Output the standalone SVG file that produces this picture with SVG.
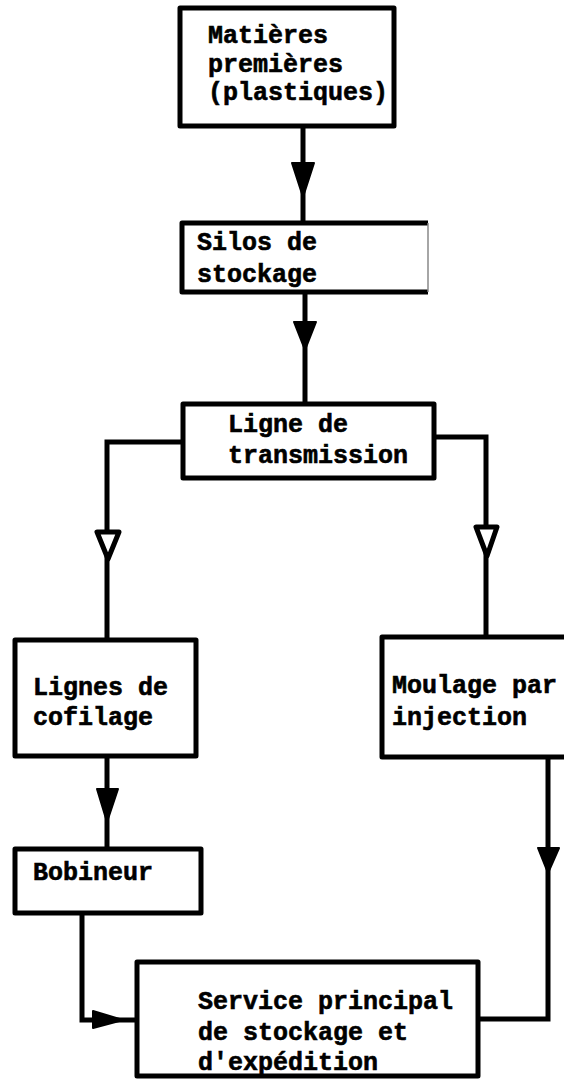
<svg xmlns="http://www.w3.org/2000/svg" width="564" height="1080" viewBox="0 0 564 1080">
  <style>
    .box { fill: #fff; stroke: #000; stroke-width: 5; stroke-linejoin: round; }
    .lbl { font-family: "Liberation Mono", "DejaVu Sans Mono", monospace; font-weight: bold; font-size: 25px; fill: #000; stroke: #000; stroke-width: 0.6; }
    .wire { fill: none; stroke: #000; stroke-width: 5; stroke-linejoin: miter; }
    .head { fill: #000; stroke: #000; stroke-width: 2; stroke-linejoin: round; }
    .open { fill: #fff; stroke: #000; stroke-width: 5; stroke-linejoin: round; }
  </style>
  <rect width="564" height="1080" fill="#fff"/>

  <!-- connectors -->
  <g id="connectors">
    <path class="wire" d="M303 126 V223"/>
    <polygon class="head" points="292,163 314,163 303,197"/>

    <path class="wire" d="M305 292 V404"/>
    <polygon class="head" points="294,322 316,322 305,350"/>

    <path class="wire" d="M183 442 H107 V640"/>
    <polygon class="open" points="97,532 119,532 108,559"/>

    <path class="wire" d="M434 437 H486 V637"/>
    <polygon class="open" points="476,527 497,527 487,556"/>

    <path class="wire" d="M107 756 V849"/>
    <polygon class="head" points="97,789 118,789 107,822"/>

    <path class="wire" d="M82 913 V1020 H137"/>
    <polygon class="head" points="93,1011 93,1028 123,1020"/>

    <path class="wire" d="M548 757 V1019 H478"/>
    <polygon class="head" points="538,848 559,848 548,873"/>
  </g>

  <g id="matieres">
    <rect class="box" x="180" y="8" width="214" height="118"/>
    <text class="lbl" x="208" y="43">Matières</text>
    <text class="lbl" x="208" y="72">premières</text>
    <text class="lbl" x="208" y="100">(plastiques)</text>
  </g>

  <g id="silos">
    <path class="box" d="M428 223 H182 V292 H428"/>
    <path d="M428 223 V292" fill="none" stroke="#888" stroke-width="1.5"/>
    <text class="lbl" x="197" y="250">Silos de</text>
    <text class="lbl" x="197" y="282">stockage</text>
  </g>

  <g id="ligne">
    <rect class="box" x="183" y="404" width="251" height="74"/>
    <text class="lbl" x="228" y="432">Ligne de</text>
    <text class="lbl" x="228" y="463">transmission</text>
  </g>

  <g id="cofilage">
    <rect class="box" x="15" y="640" width="181" height="116"/>
    <text class="lbl" x="33" y="695">Lignes de</text>
    <text class="lbl" x="33" y="725">cofilage</text>
  </g>

  <g id="moulage">
    <rect class="box" x="382" y="637" width="190" height="120"/>
    <text class="lbl" x="392" y="693">Moulage par</text>
    <text class="lbl" x="392" y="725">injection</text>
  </g>

  <g id="bobineur">
    <rect class="box" x="15" y="849" width="186" height="64"/>
    <text class="lbl" x="33" y="880">Bobineur</text>
  </g>

  <g id="service">
    <rect class="box" x="137" y="962" width="341" height="114"/>
    <text class="lbl" x="198" y="1009">Service principal</text>
    <text class="lbl" x="198" y="1040">de stockage et</text>
    <text class="lbl" x="198" y="1070">d'expédition</text>
  </g>
</svg>
